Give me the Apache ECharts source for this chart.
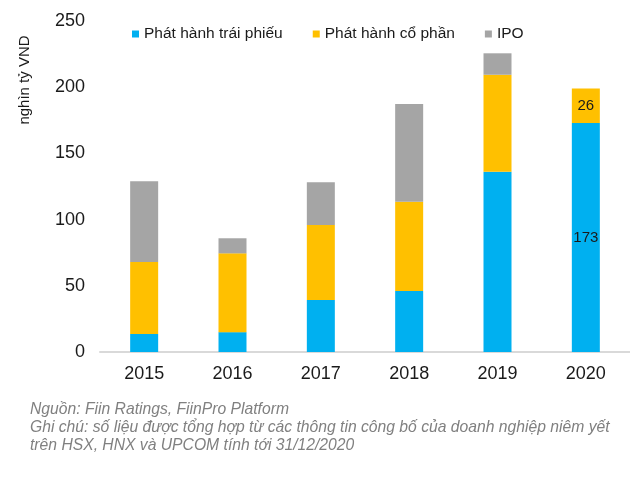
<!DOCTYPE html>
<html>
<head>
<meta charset="utf-8">
<script src="https://cdn.jsdelivr.net/npm/echarts@6/dist/echarts.min.js"></script>
<style>html,body{margin:0;padding:0;background:#fff;}#c{width:630px;height:479px;}</style>
</head>
<body>
<div id="c"></div>
<script>
const categories = ['2015', '2016', '2017', '2018', '2019', '2020'];
const bondIssuance = [13.6, 15, 39.3, 46.1, 136.2, 173];
const shareIssuance = [54.4, 59.5, 56.6, 67.4, 73.2, 26];
const ipo = [60.9, 11.4, 32.3, 73.8, 16.2, null];
const seriesNames = ['Phát hành trái phiếu', 'Phát hành cổ phần', 'IPO'];
const yTicks = [0, 50, 100, 150, 200, 250];
const labeledIndex = 5;

const font = '"Liberation Sans", Arial, sans-serif';
const chart = echarts.init(document.getElementById('c'), null, {renderer: 'canvas'});
const lbl = {
  show: true,
  position: 'inside',
  fontFamily: font,
  fontSize: 15,
  color: '#1a1a1a',
  formatter: p => p.dataIndex === labeledIndex ? String(Math.round(p.value)) : ''
};
function mk(name, data, color, showLabel) {
  return {
    name, type: 'bar', stack: 'total', data, barWidth: 28,
    itemStyle: {color}, label: showLabel ? lbl : {show: false}
  };
}
const noteStyle = {fontFamily: font, fontSize: 15.7, fontStyle: 'italic', fill: '#808080', verticalAlign: 'middle'};
chart.setOption({
  animation: false,
  backgroundColor: '#fff',
  textStyle: {fontFamily: font},
  legend: {
    data: seriesNames,
    left: 132, top: 26, padding: 0,
    itemWidth: 7, itemHeight: 7, itemGap: 30,
    icon: 'rect',
    textStyle: {fontFamily: font, fontSize: 15.5, color: '#1a1a1a'}
  },
  grid: {left: 100, top: 21, width: 539, bottom: 127, containLabel: false},
  xAxis: {
    type: 'category', data: categories,
    axisLine: {lineStyle: {color: '#d9d9d9', width: 2}},
    axisTick: {show: false},
    axisLabel: {fontFamily: font, fontSize: 18, color: '#1a1a1a', margin: 13}
  },
  yAxis: {
    type: 'value', min: yTicks[0], max: yTicks[yTicks.length - 1], interval: yTicks[1] - yTicks[0],
    splitLine: {show: false},
    axisLine: {show: false},
    axisTick: {show: false},
    axisLabel: {fontFamily: font, fontSize: 18, color: '#1a1a1a', margin: 15}
  },
  series: [
    mk(seriesNames[0], bondIssuance, '#00B0F0', true),
    mk(seriesNames[1], shareIssuance, '#FFC000', true),
    mk(seriesNames[2], ipo, '#A5A5A5', false)
  ],
  graphic: [
    {type: 'text', x: 25, y: 80, rotation: Math.PI / 2,
     style: {text: 'nghìn tỷ VND', fontFamily: font, fontSize: 15, fill: '#1a1a1a', align: 'center', verticalAlign: 'middle'}},
    {type: 'text', x: 30, y: 410, style: Object.assign({text: 'Nguồn: Fiin Ratings, FiinPro Platform'}, noteStyle)},
    {type: 'text', x: 30, y: 428, style: Object.assign({text: 'Ghi chú: số liệu được tổng hợp từ các thông tin công bố của doanh nghiệp niêm yết'}, noteStyle)},
    {type: 'text', x: 30, y: 446, style: Object.assign({text: 'trên HSX, HNX và UPCOM tính tới 31/12/2020'}, noteStyle)}
  ]
});
</script>
</body>
</html>
